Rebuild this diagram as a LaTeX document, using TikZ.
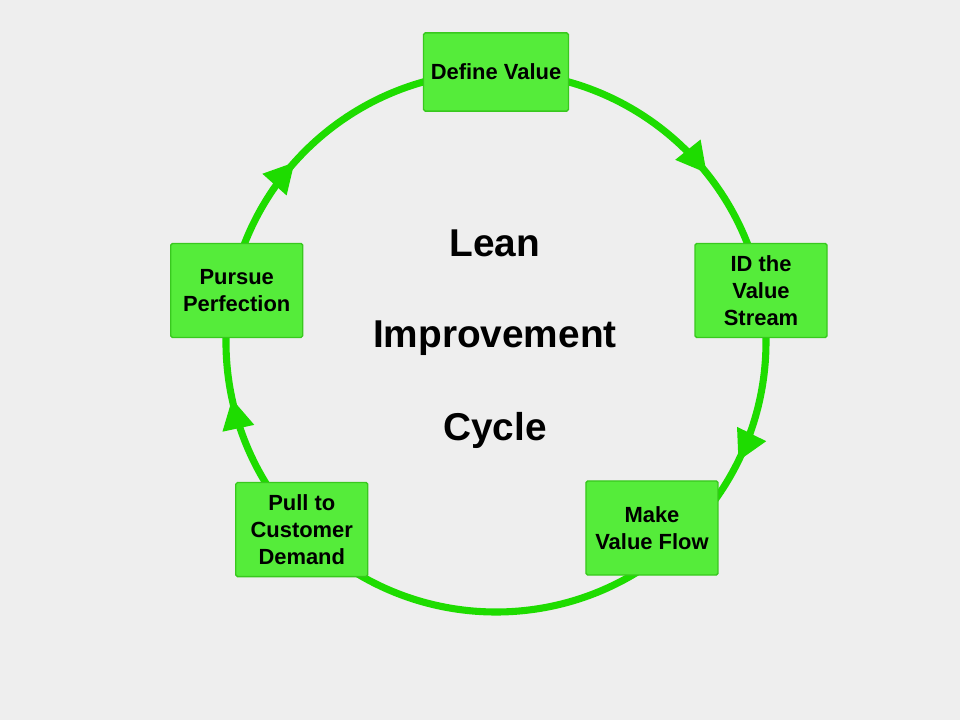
\documentclass[tikz,border=0pt]{standalone}
\usepackage{fontspec}
\setmainfont{Liberation Sans}
\usetikzlibrary{arrows.meta,positioning,decorations.markings}
\definecolor{ringgreen}{HTML}{1EDC00}
\definecolor{boxgreen}{HTML}{55EC3A}
\definecolor{boxedge}{HTML}{38C81E}
\definecolor{paper}{HTML}{EEEEEE}
\tikzstyle{stage} = [draw=boxedge,thick,fill=boxgreen,rectangle,rounded corners=1pt,align=center,inner sep=0,minimum width=2.75cm,minimum height=1.96cm,font=\fontsize{13}{16}\selectfont\bfseries]
\tikzstyle{ring} = [draw=ringgreen,line width=4.2pt]
\tikzstyle{title} = [font=\fontsize{23}{27}\selectfont\bfseries,anchor=base]
\tikzset{flowtip/.style={postaction={decorate},decoration={markings,mark=at position #1 with {\arrow[ringgreen]{Triangle[length=18pt,width=18pt]}}}}}
\def \rr {5.625cm}

\begin{document}
\begin{tikzpicture}
  \fill[paper] (0,0) rectangle (20,15);
  \coordinate (o) at (10.333,7.875);
  \path (o) ++(90:\rr) coordinate (pDef);
  \path (o) ++(11:\rr) coordinate (pID);
  \path (o) ++(-50:\rr) coordinate (pMake);
  \path (o) ++(224:\rr) coordinate (pPull);
  \path (o) ++(169:\rr) coordinate (pPerf);
  \draw[ring,flowtip=0.65] (pDef) arc[start angle=90,end angle=11,radius=\rr];
  \draw[ring,flowtip=0.61] (pID) arc[start angle=11,end angle=-50,radius=\rr];
  \draw[ring] (pMake) arc[start angle=-50,end angle=-136,radius=\rr];
  \draw[ring,flowtip=0.58] (pPull) arc[start angle=224,end angle=169,radius=\rr];
  \draw[ring,flowtip=0.39] (pPerf) arc[start angle=169,end angle=90,radius=\rr];
  \node[stage,minimum width=3.02cm,minimum height=1.63cm] (def) at (pDef) {Define Value};
  \node[stage] (id) at (pID) {ID the\\Value\\Stream};
  \node[stage] (make) at (13.583,4.0) {Make\\Value Flow};
  \node[stage] (pull) at (pPull) {Pull to\\Customer\\Demand};
  \node[stage] (perf) at ([xshift=0.12cm]pPerf) {Pursue\\Perfection};
  \node[title] (lean) at (10.31,9.646) {Lean};
  \node[title] (impr) at (10.31,7.75) {Improvement};
  \node[title] (cyc) at (10.31,5.833) {Cycle};
\end{tikzpicture}
\end{document}
